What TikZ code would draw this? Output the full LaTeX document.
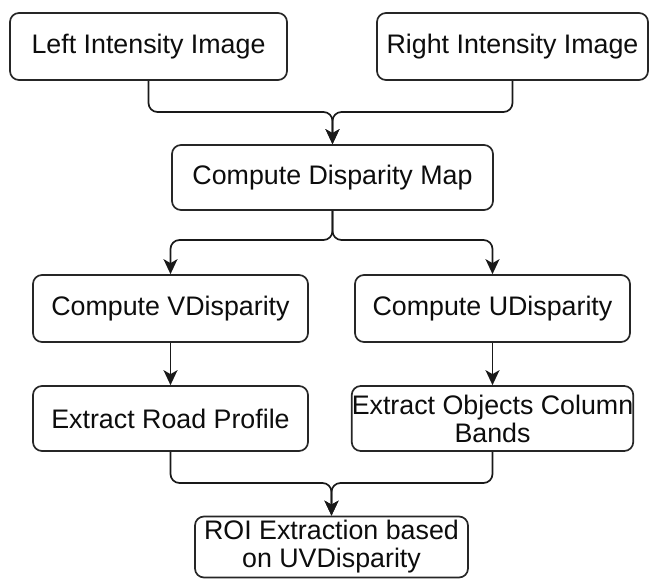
\documentclass[tikz,border=0pt]{standalone}
\usepackage{fontspec}
\setmainfont{Liberation Sans}
\usetikzlibrary{arrows.meta}
\begin{document}
\begin{tikzpicture}[x=1pt,y=-1pt,
  box/.style={draw=black!85, line width=1.7pt, rounded corners=9pt, fill=white,
    inner sep=0pt, align=center, text=black!95,
    font=\fontsize{26.8}{28}\selectfont},
  conn/.style={draw=black!90, line width=1.7pt, rounded corners=9pt,
    -{Stealth[length=15pt,width=14pt,inset=4pt]}}]
\useasboundingbox (0,0) rectangle (649,579);
\node[box, minimum width=277pt, minimum height=67pt] (b1) at (148.5,46.5) {Left Intensity Image};
\node[box, minimum width=271pt, minimum height=67pt] (b2) at (512.5,46.5) {Right Intensity Image};
\node[box, minimum width=321pt, minimum height=65pt] (b3) at (332.5,177.5) {Compute Disparity Map};
\node[box, minimum width=275pt, minimum height=67pt] (b4) at (170.5,308.5) {Compute VDisparity};
\node[box, minimum width=275pt, minimum height=67pt] (b5) at (492.5,308.5) {Compute UDisparity};
\node[box, minimum width=275pt, minimum height=65pt] (b6) at (170.5,418.5) {Extract Road Profile};
\node[box, minimum width=275pt, minimum height=65pt] (b7) at (492.5,418.5) {Extract Objects Column\\Bands};
\node[box, minimum width=273pt, minimum height=61pt] (b8) at (331.5,547) {ROI Extraction based\\on UVDisparity};
\coordinate (m1) at (332.5,112);
\coordinate (m2) at (332.5,240);
\coordinate (m3) at (331.5,483);
\draw[conn] (b1.south) |- (m1) -- (b3.north);
\draw[conn] (b2.south) |- (m1) -- (b3.north);
\draw[conn] (b3.south) -- (m2) -| (b4.north);
\draw[conn] (b3.south) -- (m2) -| (b5.north);
\draw[conn] (b4.south) -- (b6.north);
\draw[conn] (b5.south) -- (b7.north);
\draw[conn] (b6.south) |- (m3) -- (b8.north);
\draw[conn] (b7.south) |- (m3) -- (b8.north);
\end{tikzpicture}
\end{document}
